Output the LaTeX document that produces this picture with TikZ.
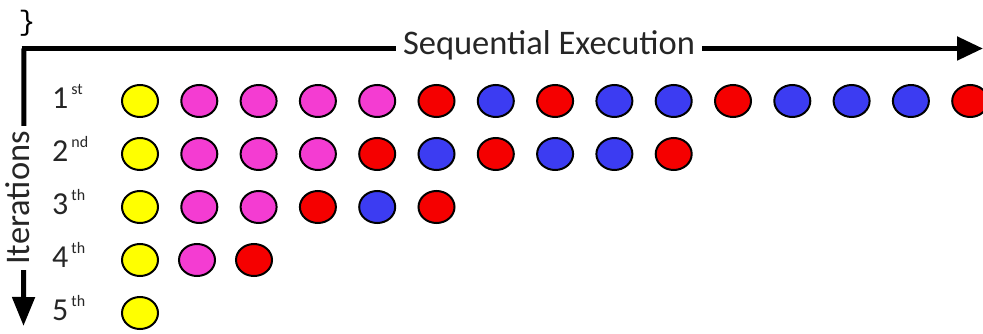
\documentclass[tikz,border=0pt]{standalone}
\usepackage{fontspec}
\setmainfont{Carlito}
\setmonofont{Liberation Mono}
\usetikzlibrary{arrows.meta,shapes.geometric}
\definecolor{cY}{HTML}{FFFF00}
\definecolor{cM}{HTML}{F43CD2}
\definecolor{cR}{HTML}{F50000}
\definecolor{cB}{HTML}{3C3CF2}
\tikzset{
  dot/.style={ellipse,draw=black,line width=2pt,minimum width=36pt,minimum height=32pt,inner sep=0pt},
  ax/.style={line width=5pt,-{Triangle[length=26pt,width=23pt]}},
  axlabel/.style={fill=white,inner xsep=7pt,inner ysep=2pt,font=\fontsize{34.5}{34.5}\selectfont,text=black!85},
  rowlabel/.style={anchor=base west,inner sep=0pt,text=black!85}
}
\newcommand{\rowlab}[2]{{\fontsize{32}{32}\selectfont #1}\hspace{3pt}\raisebox{14pt}{\fontsize{16}{16}\selectfont #2}}
\begin{document}
\begin{tikzpicture}[x=1pt,y=-1pt]
\useasboundingbox (0,0) rectangle (983,334);
% brace
\node[inner sep=0pt,font=\ttfamily\fontsize{28}{28}\selectfont] (brace) at (27,23) {\}};
% axes
\coordinate (o) at (24,48.5);
\coordinate (xe) at (983,48.5);
\coordinate (ye) at (23.5,326);
\draw[ax] (21.5,48.5) -- (xe);
\draw[ax,-{Triangle[length=29pt,width=22pt]}] (o) -- (ye);
\node[axlabel] (seq) at (549,45) {Sequential Execution};
\node[axlabel,rotate=90,inner xsep=5pt,inner ysep=0pt] (iter) at (18,198) {Iterations};
% row labels
\node[rowlabel] (l1) at (52,108.5) {\rowlab{1}{st}};
\node[rowlabel] (l2) at (52,161.5) {\rowlab{2}{nd}};
\node[rowlabel] (l3) at (52,214.5) {\rowlab{3}{th}};
\node[rowlabel] (l4) at (52,267.5) {\rowlab{4}{th}};
\node[rowlabel] (l5) at (52,320.5) {\rowlab{5}{th}};
% dots
\foreach \c [count=\i] in {cY,cM,cM,cM,cM,cR,cB,cR,cB,cB,cR,cB,cB,cB,cR}
  \node[dot,fill=\c] (a\i) at ({140+59.3*(\i-1)},101) {};
\foreach \c [count=\i] in {cY,cM,cM,cM,cR,cB,cR,cB,cB,cR}
  \node[dot,fill=\c] (b\i) at ({140+59.3*(\i-1)},154) {};
\foreach \c [count=\i] in {cY,cM,cM,cR,cB,cR}
  \node[dot,fill=\c] (c\i) at ({140+59.3*(\i-1)},207) {};
\foreach \c [count=\i] in {cY,cM,cR}
  \node[dot,fill=\c] (d\i) at ({140+57*(\i-1)},260) {};
\node[dot,fill=cY] (e1) at (140,313) {};
\end{tikzpicture}
\end{document}
